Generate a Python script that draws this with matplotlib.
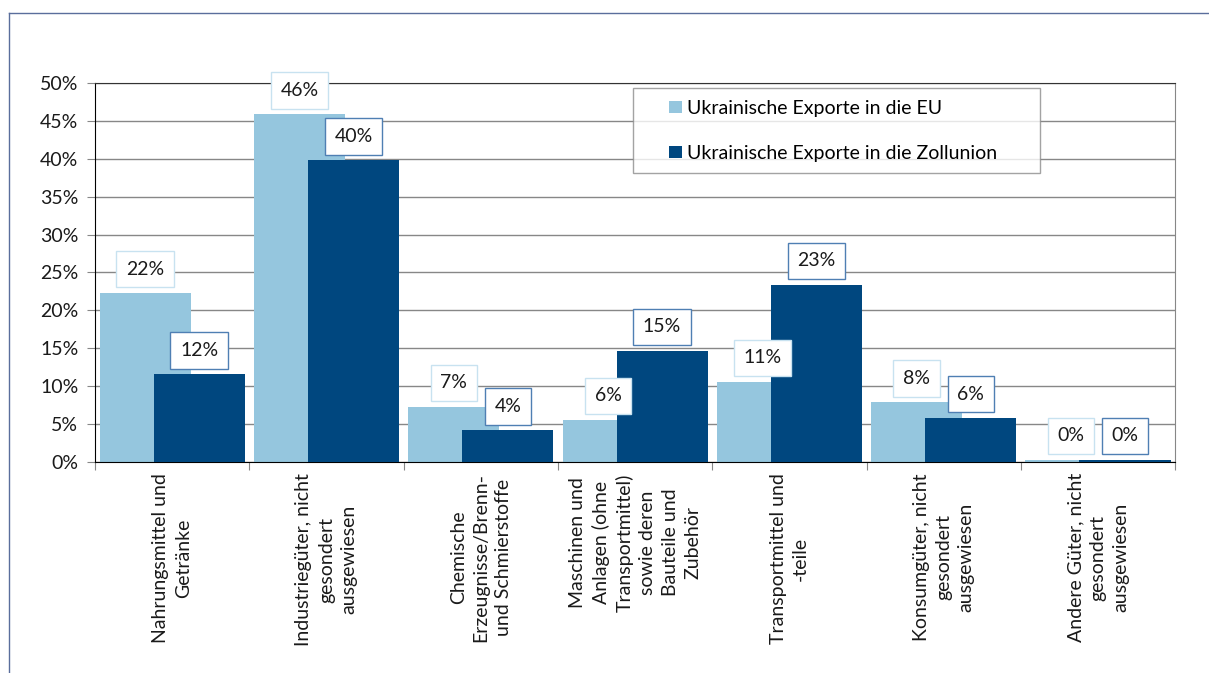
import numpy as np
import matplotlib
matplotlib.use('Agg')
import matplotlib.pyplot as plt
from matplotlib.lines import Line2D
from matplotlib.patches import Rectangle
from matplotlib.container import BarContainer
from matplotlib.legend_handler import HandlerPatch

plt.rcParams['font.family'] = ['Lato', 'DejaVu Sans']

kategorien = ['Nahrungsmittel und\nGetränke',
              'Industriegüter, nicht\ngesondert\nausgewiesen',
              'Chemische\nErzeugnisse/Brenn-\nund Schmierstoffe',
              'Maschinen und\nAnlagen (ohne\nTransportmittel)\nsowie deren\nBauteile und\nZubehör',
              'Transportmittel und\n-teile',
              'Konsumgüter, nicht\ngesondert\nausgewiesen',
              'Andere Güter, nicht\ngesondert\nausgewiesen']
exporte_eu = [22.3, 45.9, 7.3, 5.6, 10.6, 7.9, 0.3]
exporte_zu = [11.6, 39.8, 4.2, 14.7, 23.4, 5.8, 0.3]
serien = ['Ukrainische Exporte in die EU', 'Ukrainische Exporte in die Zollunion']
y_ticks = [0, 5, 10, 15, 20, 25, 30, 35, 40, 45, 50]

hell = '#95c6de'
dunkel = '#00477f'
fs = 14


def kleines_quadrat(legend, orig_handle, xdescent, ydescent, width, height, fontsize):
    # Quadrat rechts im Handle-Bereich, damit links mehr Platz bleibt
    s = 9
    return Rectangle((width - s - xdescent, (height - s) / 2 - ydescent), s, s)


def farbe_uebernehmen(legend_handle, orig_handle):
    legend_handle.update_from(orig_handle[0])


fig = plt.figure(figsize=(12.09, 6.73), dpi=100)
ax = fig.add_axes([0.0786, 0.3135, 0.8934, 0.5632])

x = np.arange(len(kategorien)) + 0.5
b1 = ax.bar(x - 0.175, exporte_eu, width=0.59, color=hell, label=serien[0], zorder=2)
b2 = ax.bar(x + 0.175, exporte_zu, width=0.59, color=dunkel, label=serien[1], zorder=3)

# Beschriftungen mit Kasten
for bars, werte, rand in [(b1, exporte_eu, '#c8e2f0'), (b2, exporte_zu, '#4f7fb3')]:
    for b, v in zip(bars, werte):
        ax.annotate(f'{round(v)}%', (b.get_x() + b.get_width() / 2, v),
                    xytext=(0, 11), textcoords='offset points',
                    ha='center', va='bottom', fontsize=fs, color='#1a1a1a',
                    bbox=dict(boxstyle='square,pad=0.5', fc='white', ec=rand, lw=1),
                    zorder=5)

ax.set_xlim(0, len(kategorien))
ax.set_ylim(0, 50)
ax.set_yticks(y_ticks)
ax.set_yticklabels([f'{t}%' for t in y_ticks], fontsize=fs, color='#1a1a1a')
ax.yaxis.grid(True, color='#878787', lw=1, zorder=0)
ax.set_axisbelow(True)

ax.set_xticks(np.arange(len(kategorien) + 1))
ax.set_xticklabels([])
ax.set_xticks(x, minor=True)
ax.set_xticklabels(kategorien, minor=True, rotation=90, ha='center', va='top',
                   multialignment='center', fontsize=fs, color='#1a1a1a',
                   linespacing=1.4)
ax.tick_params(axis='x', which='major', length=6, color='#878787')
ax.tick_params(axis='x', which='minor', length=0, pad=8)
ax.tick_params(axis='y', length=6, color='#878787', pad=6)

ax.spines['left'].set_color('black')
ax.spines['bottom'].set_color('black')
ax.spines['top'].set_color('#333333')
ax.spines['right'].set_color('#878787')

leg = ax.legend(loc='upper left', bbox_to_anchor=(0.498, 0.5, 0.377, 0.487), mode='expand',
                fontsize=fs, frameon=True, fancybox=False,
                handlelength=1.9, handleheight=0.7, labelspacing=1.45, borderpad=0.6,
                handletextpad=0.3, borderaxespad=0,
                handler_map={BarContainer: HandlerPatch(patch_func=kleines_quadrat,
                                                        update_func=farbe_uebernehmen)})
leg.get_frame().set_edgecolor('#8c8c8c')
leg.get_frame().set_linewidth(1)

# Rahmen oben und links
fig.add_artist(Line2D([9 / 1209, 1], [1 - 13 / 673, 1 - 13 / 673], color='#5a6e9c', lw=1))
fig.add_artist(Line2D([9 / 1209, 9 / 1209], [0, 1 - 13 / 673], color='#5a6e9c', lw=1))

plt.savefig('out.png', dpi=100)
